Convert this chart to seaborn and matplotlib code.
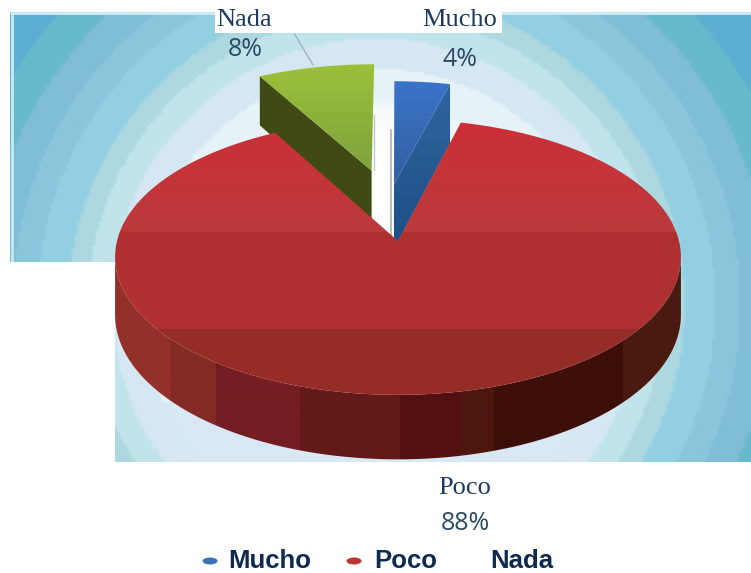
import numpy as np
import matplotlib
matplotlib.use("Agg")
import matplotlib.pyplot as plt
from matplotlib.patches import Polygon, Ellipse, Rectangle
import seaborn as sns

# Data
categories = ["Mucho", "Poco", "Nada"]
percentages = [4, 88, 8]
pct_labels = ["4%", "88%", "8%"]

# Settings
W, H = 751, 573
CX, CY = 398, 241      # apex of the red slice on the picture
RX, RY = 281, 136      # pie radii
PERSP = 0.116          # far side of the pie is squeezed by this
DEPTH = 57
NAVY = "#1f3a5f"

sns.set_theme(style="white")
plt.rcParams["font.family"] = ["Liberation Serif", "DejaVu Sans"]

fig = plt.figure(figsize=(W / 100, H / 100), dpi=100)
ax = fig.add_axes([0, 0, 1, 1])

# pie only used for the slice angles, the 3D look is projected from them
wedges, _ = ax.pie(percentages, startangle=90, counterclock=False, radius=1)
angles = [(w.theta1, w.theta2) for w in wedges]
for w in wedges:
    w.remove()
ax.set_aspect("auto")
ax.set_xlim(0, W)
ax.set_ylim(H, 0)
ax.axis("off")


def project(u, v, z=0.0):
    u, v = np.atleast_1d(u), np.atleast_1d(v)
    s = 1 / (1 + PERSP * v)
    return np.column_stack([CX + RX * u * s, CY - RY * v * s + DEPTH * z * s])


def arc(theta1, theta2, off=(0, 0), r=1.0, n=120):
    t = np.radians(np.linspace(theta1, theta2, n))
    return off[0] + r * np.cos(t), off[1] + r * np.sin(t)


def band_fill(poly, colors, bounds, axis):
    # colour bands clipped to a polygon, bounds are picture pixels
    patch = Polygon(poly, closed=True, fc="none", ec="none", transform=ax.transData)
    ax.add_patch(patch)
    rgb = np.array(sns.color_palette(colors, len(colors)))
    idx = np.clip(np.searchsorted(bounds, np.arange(W if axis == "x" else H) + 0.5) - 1, 0, len(colors) - 1)
    img = rgb[idx][np.newaxis, :, :] if axis == "x" else rgb[idx][:, np.newaxis, :]
    im = ax.imshow(img, extent=[0, W, H, 0], aspect="auto", interpolation="bilinear")
    im.set_clip_path(patch)
    return im


# Background, circular bands cut to an L shape, low res so the edges go soft
step = 3
yy, xx = np.mgrid[0:H:step, 0:W:step]
rad = np.hypot(xx - 376, yy - 302)
bg_bounds = [0, 160, 200, 235, 265, 289, 309, 340, 365, 395, 430]
bg_cols = ["#f8fbfb", "#eff8f7", "#e6f2f8", "#d5e7f3", "#c1e4ec", "#add8e0", "#93cfe3",
           "#8ac6dc", "#80bdd6", "#68bacb", "#5caed2"]
bg_rgb = np.array(sns.color_palette(bg_cols, len(bg_cols)))
bg_img = bg_rgb[np.searchsorted(bg_bounds, rad) - 1]
# strip below the pie is bluer than the middle of the rings
bg_img[(rad < 235) & (yy > 400)] = sns.color_palette(["#d8e8f4"])[0]
shape = Polygon([(10, 12), (W, 12), (W, 462), (115, 462), (115, 262), (10, 262)], closed=True, fc="none", ec="none")
ax.add_patch(shape)
bg = ax.imshow(bg_img, extent=[0, W, H, 0], aspect="auto", interpolation="bilinear", zorder=0.5)
bg.set_clip_path(shape)
ax.plot([11.5, 11.5], [12, 262], color="#c4ecf3", lw=2, solid_capstyle="butt", zorder=0.6)
ax.plot([10, W], [12.5, 12.5], color="#d0eef2", lw=2, solid_capstyle="butt", zorder=0.6)

# White gap between the lifted slices
gap = np.ones((H, 1, 4))
gap[:, 0, 3] = np.clip((np.arange(H) - 95) / 40, 0, 1)
gap_im = ax.imshow(gap, extent=[373, 393, H, 0], aspect="auto", zorder=0.9)
gap_im.set_clip_path(Rectangle((373, 95), 20, 146, transform=ax.transData))
ax.plot([374, 374], [115, 170], color="#9aa3a8", lw=1, alpha=0.6, zorder=0.95)
ax.plot([391, 391], [130, 240], color="#8d959b", lw=1.5, alpha=0.6, zorder=0.95)

# Nada, lifted slice
off_nada = (-0.10, 0.55)
t1, t2 = angles[2]
u, v = arc(t1, t2, off_nada, 0.98)
top = project(np.r_[off_nada[0], u], np.r_[off_nada[1], v])
wall = np.vstack([project(off_nada[0], off_nada[1]),
                  project(u[-1], v[-1]),
                  project(u[-1], v[-1], 1),
                  project(off_nada[0], off_nada[1], 1)])
ax.add_patch(Polygon(wall, closed=True, fc="#3f4a14", ec="none", zorder=1))
band_fill(top, sns.blend_palette(["#9cc03a", "#7ba03c"], 12), np.linspace(60, 175, 12), "y").set_zorder(1.1)

# Mucho, lifted slice
off_mucho = (-0.015, 0.44)
t1, t2 = angles[0]
u, v = arc(t1, t2, off_mucho, 0.92)
top = project(np.r_[off_mucho[0], u], np.r_[off_mucho[1], v])
wall = np.vstack([project(off_mucho[0], off_mucho[1]),
                  project(u[0], v[0]),
                  project(u[0], v[0], 1.2),
                  project(off_mucho[0], off_mucho[1], 1.2)])
band_fill(wall, sns.blend_palette(["#2d649f", "#1f4f86"], 12), np.linspace(85, 240, 12), "y").set_zorder(1.2)
band_fill(top, sns.blend_palette(["#3a72c8", "#33609e"], 12), np.linspace(80, 185, 12), "y").set_zorder(1.3)

# Poco, side wall then top
t1, t2 = angles[1]
u, v = arc(t1, t2, n=500)
front = v <= -PERSP
fu, fv = u[front], v[front]
side = np.vstack([project(fu, fv), project(fu[::-1], fv[::-1], 1)])
side_bounds = [0, 170, 216, 300, 400, 461, 494, 623]
side_cols = ["#94302a", "#842a24", "#741d22", "#631a18", "#541010", "#4d1710", "#3d0f08", "#4a1a10"]
band_fill(side, side_cols, side_bounds, "x").set_zorder(1.4)

top = project(np.r_[0, u], np.r_[0, v])
red_cols = list(sns.blend_palette(["#cb3038", "#bb3a3b"], 8)) + ["#b03032", "#962c27"]
red_bounds = list(np.linspace(120, 225, 8)) + [232, 329]
band_fill(top, red_cols, red_bounds, "y").set_zorder(1.5)

ax.set_xlim(0, W)
ax.set_ylim(H, 0)

# Data labels
ax.add_patch(Rectangle((215, 0), 287, 33, fc="white", ec="none", zorder=2))
ax.add_patch(Rectangle((0, 0), W, 10, fc="white", ec="none", zorder=2))
ax.plot([294, 313], [33, 65], color="#9fb4bd", lw=1, zorder=1)
serif = dict(family=["Liberation Serif", "DejaVu Sans"], fontsize=19, color=NAVY, ha="center", va="baseline", zorder=3)
sans = dict(family=["Open Sans", "DejaVu Sans"], fontsize=18, color="#2b4a63", ha="center", va="center", zorder=3)
ax.text(244, 26, categories[2], **serif)
ax.text(245, 50, pct_labels[2], **sans)
ax.text(460, 26, categories[0], **serif)
ax.text(460, 59, pct_labels[0], **sans)
ax.text(465, 494, categories[1], **serif)
ax.text(465, 524, pct_labels[1], **sans)

# Legend, the green key is missing in the picture
bold = dict(family=["Liberation Sans", "DejaVu Sans"], fontsize=18.5, fontweight="bold", color="#0f2a50", va="center", ha="left")
ax.add_patch(Ellipse((210, 561), 15, 7, fc="#3a72b8", ec="none"))
ax.text(228, 561, categories[0], **bold)
ax.add_patch(Ellipse((354, 561), 15, 7, fc="#bf3532", ec="none"))
ax.text(374, 561, categories[1], **bold)
ax.text(490, 561, categories[2], **bold)

fig.savefig("out.png", dpi=100)
